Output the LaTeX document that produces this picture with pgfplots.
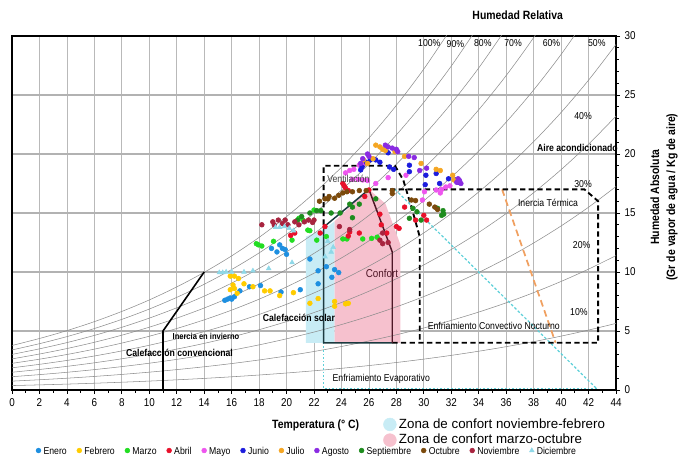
\documentclass[border=0pt]{standalone}
\usepackage{fontspec}
\setmainfont{Liberation Sans}
\newfontfamily\nar[FakeStretch=0.87]{Liberation Sans}
\usepackage{pgfplots}
\pgfplotsset{compat=1.18}
\definecolor{cEne}{HTML}{1E8FE0}
\definecolor{cFeb}{HTML}{FFCC00}
\definecolor{cMar}{HTML}{22DD22}
\definecolor{cAbr}{HTML}{E8102A}
\definecolor{cMay}{HTML}{EE55EE}
\definecolor{cJun}{HTML}{1C1CDD}
\definecolor{cJul}{HTML}{F5A623}
\definecolor{cAgo}{HTML}{8A2BE2}
\definecolor{cSep}{HTML}{1E8C1E}
\definecolor{cOct}{HTML}{7B4A0C}
\definecolor{cNov}{HTML}{A8243F}
\definecolor{cDic}{HTML}{8FD8E8}
\definecolor{zblue}{HTML}{C8ECF5}
\definecolor{zpink}{HTML}{F6C1CE}
\definecolor{dslate}{HTML}{1C3A40}
\definecolor{dmaroon}{HTML}{4E1626}
\definecolor{corange}{HTML}{F0A060}
\definecolor{ccyan}{HTML}{5CCFD8}
\definecolor{rhgray}{HTML}{8C8C8C}
\tikzset{
  lab/.style={font=\nar\fontsize{7.5}{9}\selectfont, inner sep=0pt},
  blab/.style={font=\nar\bfseries\fontsize{7.5}{9}\selectfont, inner sep=0pt},
}
\begin{document}
\begin{tikzpicture}
\begin{axis}[
  name=main, at={(0,0)}, anchor=south west,
  scale only axis, width=453pt, height=265.5pt,
  xmin=0, xmax=44, ymin=0, ymax=30,
  xtick={0,2,...,44}, ytick={0,5,...,30},
  minor x tick num=1, minor y tick num=4,
  xtick pos=bottom, ytick pos=right, yticklabel pos=right,
  tick align=outside,
  major tick length=3pt, minor tick length=2pt,
  tick style={black, line width=0.5pt},
  axis line style={black, line width=1pt},
  xmajorgrids, ymajorgrids,
  x grid style={gray!55, line width=0.5pt},
  y grid style={gray!60, line width=1pt},
  ticklabel style={font=\nar\fontsize{8.5}{10}\selectfont},
  /pgf/number format/assume math mode=true,
  clip mode=individual,
  legend columns=12,
  legend style={at={(0.489,-0.171)}, anchor=center, draw=none, fill=none,
    font=\nar\fontsize{7.5}{9}\selectfont,
    nodes={text height=1.55ex, text depth=0.3ex},
    /tikz/every even column/.append style={column sep=5.6pt}},
  legend image code/.code={\draw[#1] plot coordinates {(0.05cm,0cm)};},
]
% comfort zones
\addplot[forget plot, fill=zblue, draw=none] coordinates {(21.4,4)(21.4,13.0)(22.7,13.6)(23.5,14.3)(23.5,4)};
\addplot[forget plot, fill=zpink, draw=none] coordinates {(23.5,4)(23.5,14.3)(26,17)(27.2,15.8)(28.3,12.3)(28.3,4)};
% relative humidity curves
\addplot[forget plot, rhgray, line width=0.4pt, smooth] coordinates {(0,3.773)(2,4.364)(4,5.031)(6,5.793)(8,6.657)(10,7.631)(12,8.734)(14,9.973)(16,11.364)(18,12.934)(20,14.698)(22,16.672)(24,18.880)(26,21.353)(28,24.117)(30,27.205)(32,30.654)};
\addplot[forget plot, rhgray, line width=0.4pt, smooth] coordinates {(0,3.395)(2,3.925)(4,4.524)(6,5.209)(8,5.985)(10,6.859)(12,7.849)(14,8.961)(16,10.209)(18,11.616)(20,13.197)(22,14.965)(24,16.941)(26,19.152)(28,21.621)(30,24.378)(32,27.453)(34,30.874)};
\addplot[forget plot, rhgray, line width=0.4pt, smooth] coordinates {(0,3.015)(2,3.487)(4,4.018)(6,4.626)(8,5.314)(10,6.090)(12,6.967)(14,7.953)(16,9.058)(18,10.304)(20,11.703)(22,13.267)(24,15.013)(26,16.966)(28,19.145)(30,21.575)(32,24.284)(34,27.293)(36,30.644)};
\addplot[forget plot, rhgray, line width=0.4pt, smooth] coordinates {(0,2.636)(2,3.049)(4,3.513)(6,4.044)(8,4.645)(10,5.322)(12,6.088)(14,6.948)(16,7.912)(18,8.998)(20,10.216)(22,11.577)(24,13.097)(26,14.794)(28,16.688)(30,18.797)(32,21.145)(34,23.751)(36,26.649)(38,29.867)(40,33.435)};
\addplot[forget plot, rhgray, line width=0.4pt, smooth] coordinates {(0,2.258)(2,2.611)(4,3.009)(6,3.463)(8,3.977)(10,4.556)(12,5.211)(14,5.946)(16,6.769)(18,7.696)(20,8.736)(22,9.897)(24,11.192)(26,12.639)(28,14.249)(30,16.042)(32,18.037)(34,20.247)(36,22.703)(38,25.426)(40,28.440)(42,31.776)};
\addplot[forget plot, rhgray, line width=0.4pt, smooth] coordinates {(0,1.881)(2,2.175)(4,2.505)(6,2.883)(8,3.311)(10,3.792)(12,4.336)(14,4.947)(16,5.631)(18,6.400)(20,7.263)(22,8.226)(24,9.299)(26,10.496)(28,11.829)(30,13.311)(32,14.958)(34,16.782)(36,18.805)(38,21.045)(40,23.521)(42,26.257)(44,29.284)};
\addplot[forget plot, rhgray, line width=0.4pt, smooth] coordinates {(0,1.504)(2,1.739)(4,2.003)(6,2.304)(8,2.646)(10,3.030)(12,3.464)(14,3.951)(16,4.496)(18,5.110)(20,5.797)(22,6.563)(24,7.417)(26,8.369)(28,9.427)(30,10.604)(32,11.909)(34,13.354)(36,14.954)(38,16.722)(40,18.675)(42,20.829)(44,23.210)};
\addplot[forget plot, rhgray, line width=0.4pt, smooth] coordinates {(0,1.127)(2,1.303)(4,1.501)(6,1.727)(8,1.982)(10,2.270)(12,2.595)(14,2.959)(16,3.366)(18,3.824)(20,4.338)(22,4.910)(24,5.546)(26,6.256)(28,7.044)(30,7.919)(32,8.889)(34,9.962)(36,11.148)(38,12.458)(40,13.903)(42,15.492)(44,17.246)};
\addplot[forget plot, rhgray, line width=0.4pt, smooth] coordinates {(0,0.751)(2,0.868)(4,0.999)(6,1.150)(8,1.320)(10,1.511)(12,1.727)(14,1.969)(16,2.240)(18,2.545)(20,2.885)(22,3.264)(24,3.686)(26,4.157)(28,4.678)(30,5.257)(32,5.898)(34,6.606)(36,7.388)(38,8.250)(40,9.200)(42,10.243)(44,11.392)};
\addplot[forget plot, rhgray, line width=0.4pt, smooth] coordinates {(0,0.375)(2,0.434)(4,0.499)(6,0.574)(8,0.659)(10,0.755)(12,0.862)(14,0.983)(16,1.118)(18,1.270)(20,1.439)(22,1.628)(24,1.838)(26,2.071)(28,2.330)(30,2.617)(32,2.935)(34,3.286)(36,3.672)(38,4.098)(40,4.566)(42,5.079)(44,5.645)};
% strategy lines
\addplot[forget plot, black, line width=1.2pt] coordinates {(11,0)(11,5)(14,10)};
\addplot[forget plot, ccyan, line width=0.9pt, dash pattern=on 1.2pt off 1.5pt] coordinates {(22.7,4)(22.7,0.15)(42.6,0.15)};
\addplot[forget plot, ccyan, line width=0.9pt, dash pattern=on 2pt off 1.5pt] coordinates {(27.9,17)(42.6,0.1)};
\addplot[forget plot, corange, line width=1.3pt, dash pattern=on 5pt off 3pt] coordinates {(35.7,17)(39.6,4)};
\addplot[forget plot, black, line width=1.4pt, dash pattern=on 4pt off 2.5pt] coordinates {(22.7,14)(22.7,19)(27.9,19)(28.5,17.8)(29.1,15.5)(29.7,13)(29.7,4)};
\addplot[forget plot, black, line width=1.4pt, dash pattern=on 4pt off 2.5pt] coordinates {(27.7,4)(42.7,4)(42.7,16)(41.7,17)(26,17)};
\addplot[forget plot, dslate, line width=1.1pt] coordinates {(27.7,4)(22.7,4)(22.7,13.8)(26,17)};
\addplot[forget plot, dmaroon, line width=1.1pt] coordinates {(26,17)(27.7,11.7)(27.7,4)};
% monthly data
\addplot[only marks, mark=*, mark size=1.8pt, color=cEne] coordinates {(15.5,7.6)(15.7,7.7)(15.9,7.8)(16.2,7.9)(16.0,7.7)(16.6,8.4)(17.3,8.75)(18.1,8.85)(19.6,8.3)(21.0,8.5)(19.5,12.3)(19.7,12.0)(19.3,11.7)(19.9,11.9)(20.0,11.5)(18.9,12.0)(21.7,11.1)(22.9,10.45)(23.5,10.2)(23.8,9.95)(23.3,9.55)(22.3,9.0)(22.3,10.1)};
\addlegendentry{Enero}
\addplot[only marks, mark=*, mark size=1.8pt, color=cFeb] coordinates {(15.9,9.65)(16.2,9.65)(16.5,9.45)(16.9,9.0)(15.9,8.5)(16.2,8.6)(16.4,8.2)(17.55,8.75)(18.4,8.4)(18.8,8.4)(19.5,8.0)(20.5,8.25)(21.7,7.35)(22.3,7.75)(23.5,7.5)(23.5,7.1)(24.3,7.3)(24.5,7.35)(16.1,8.9)};
\addlegendentry{Febrero}
\addplot[only marks, mark=*, mark size=1.8pt, color=cMar] coordinates {(17.8,12.4)(17.95,12.3)(18.2,12.2)(19.05,12.6)(20.4,12.7)(21.7,13.5)(22.2,12.7)(20.9,14.55)(21.2,14.4)(21.55,13.55)(22.0,15.25)(24.1,12.8)(24.4,12.8)(25.55,12.8)(26.2,12.85)(26.6,12.95)(22.9,13.0)};
\addlegendentry{Marzo}
\addplot[only marks, mark=*, mark size=1.8pt, color=cAbr] coordinates {(24.1,17.5)(24.2,17.3)(24.3,17.1)(24.5,16.9)(26.0,16.95)(25.7,16.4)(26.9,14.0)(28.0,13.85)(28.6,15.5)(29.4,14.4)(30.0,14.8)(30.2,14.4)(24.6,13.4)(24.5,13.05)(25.3,13.3)(22.8,13.85)(20.3,13.1)(20.6,13.3)(22.45,13.3)(28.2,13.7)(27.3,13.3)(26.8,14.9)};
\addlegendentry{Abril}
\addplot[only marks, mark=*, mark size=1.8pt, color=cMay] coordinates {(24.3,18.4)(24.6,18.6)(24.9,18.7)(25.3,19.05)(25.6,19.2)(24.8,17.85)(25.2,17.85)(25.55,17.8)(25.9,17.75)(26.5,17.5)(29.9,16.1)(30.05,16.8)(30.9,16.95)(31.3,17.0)(31.6,17.2)(31.9,17.3)(31.2,16.7)(27.4,18.0)(28.7,18.2)};
\addlegendentry{Mayo}
\addplot[only marks, mark=*, mark size=1.8pt, color=cJun] coordinates {(25.4,18.65)(25.5,18.9)(25.8,19.3)(26.1,19.5)(26.5,19.5)(27.4,20.1)(27.5,18.9)(27.8,18.7)(28.95,19.05)(28.95,18.5)(30.15,18.2)(30.1,17.4)(30.9,18.35)(31.15,17.5)(31.8,17.9)(32.3,17.8)(32.5,17.6)(26.8,19.3)};
\addlegendentry{Junio}
\addplot[only marks, mark=*, mark size=1.8pt, color=cJul] coordinates {(26.5,20.75)(26.8,20.6)(27.0,20.4)(26.3,19.6)(25.9,19.2)(28.6,19.8)(27.2,20.3)(30.9,18.7)(31.2,18.6)(32.1,18.2)(32.2,17.8)(29.8,19.2)(25.6,19.5)(27.9,20.2)};
\addlegendentry{Julio}
\addplot[only marks, mark=*, mark size=1.8pt, color=cAgo] coordinates {(27.2,20.75)(27.4,20.6)(27.7,20.5)(28.0,20.4)(28.1,20.2)(25.9,20.0)(26.0,19.8)(25.55,19.6)(25.4,19.2)(28.9,19.8)(29.7,18.6)(30.2,18.8)(32.5,17.9)(32.6,17.75)(32.7,17.5)(32.4,17.6)(29.3,19.7)};
\addlegendentry{Agosto}
\addplot[only marks, mark=*, mark size=1.8pt, color=cSep] coordinates {(21.7,15.0)(22.2,15.2)(22.5,15.2)(23.25,15.0)(21.1,14.7)(20.8,14.4)(24.6,15.75)(24.8,15.5)(25.3,15.75)(26.5,16.2)(24.8,14.6)(29.2,15.4)(29.5,15.1)(28.95,14.55)(29.8,14.4)(31.0,15.4)(31.4,15.2)(31.45,14.9)(31.3,14.8)(23.9,15.0)};
\addlegendentry{Septiembre}
\addplot[only marks, mark=*, mark size=1.8pt, color=cOct] coordinates {(22.4,16.0)(22.8,16.2)(23.1,16.4)(23.5,16.25)(23.8,16.5)(24.1,16.7)(24.4,16.8)(24.8,16.8)(25.3,16.9)(25.8,16.9)(27.7,16.65)(27.7,16.9)(29.1,16.1)(29.4,16.05)(30.4,15.75)(30.8,15.5)(31.0,15.3)(23.0,16.2)};
\addlegendentry{Octubre}
\addplot[only marks, mark=*, mark size=1.8pt, color=cNov] coordinates {(19.0,14.25)(19.1,14.0)(19.4,14.4)(19.7,14.1)(19.9,14.4)(20.1,14.0)(20.6,14.25)(20.9,14.0)(21.3,14.25)(21.6,14.4)(21.9,14.2)(22.0,14.4)(23.85,13.85)(24.6,13.6)(26.8,12.7)(27.0,12.4)(27.4,12.5)(27.0,13.3)(18.2,14.0)};
\addlegendentry{Noviembre}
\addplot[only marks, mark=triangle*, mark size=2pt, color=cDic] coordinates {(15.1,9.95)(15.35,9.95)(15.6,10.0)(16.0,10.0)(16.9,10.0)(17.55,10.1)(18.7,10.3)(20.4,10.8)(19.5,13.8)(19.85,13.85)(20.2,13.7)(20.5,13.5)(19.2,13.8)(23.0,12.6)(23.25,11.7)(22.8,11.3)(23.4,12.1)};
\addlegendentry{Diciembre}
% labels
\node[lab] at (axis cs:30.4,29.4) {100\%};
\node[lab] at (axis cs:32.3,29.3) {90\%};
\node[lab] at (axis cs:34.3,29.4) {80\%};
\node[lab] at (axis cs:36.5,29.4) {70\%};
\node[lab] at (axis cs:39.3,29.4) {60\%};
\node[lab] at (axis cs:42.6,29.4) {50\%};
\node[lab] at (axis cs:41.6,23.2) {40\%};
\node[lab] at (axis cs:41.6,17.45) {30\%};
\node[lab] at (axis cs:41.5,12.3) {20\%};
\node[lab] at (axis cs:41.3,6.6) {10\%};
\node[blab, anchor=east] at (axis cs:44.15,20.55) {Aire acondicionado};
\node[lab] at (axis cs:39.05,15.9) {Inercia Térmica};
\node[lab] at (axis cs:35.1,5.4) {Enfriamiento Convectivo Nocturno};
\node[lab] at (axis cs:26.9,0.9) {Enfriamiento Evaporativo};
\node[lab, text=dmaroon, font=\nar\fontsize{8.5}{10}\selectfont] at (axis cs:26.95,9.9) {Confort};
\node[lab, text=black!75] at (axis cs:24.5,17.9) {Ventilación};
\node[blab] at (axis cs:20.9,6.15) {Calefacción solar};
\node[blab, font=\nar\bfseries\fontsize{6.5}{8}\selectfont] at (axis cs:14.13,4.52) {Inercia en invierno};
\node[blab] at (axis cs:12.2,3.11) {Calefacción convencional};
\node[font=\nar\bfseries\fontsize{9}{10}\selectfont] at (axis cs:36.84,31.78) {Humedad Relativa};
\node[font=\nar\bfseries\fontsize{9}{10}\selectfont] at (axis cs:22.12,-2.97) {Temperatura (° C)};
\node[rotate=90, align=center, font=\nar\bfseries\fontsize{9}{12}\selectfont] at (axis cs:47.5,16.35) {Humedad Absoluta\\(Gr de vapor de agua / Kg de aire)};
\end{axis}
\begin{axis}[
  at={(0,0)}, anchor=south west,
  scale only axis, width=453pt, height=265.5pt,
  hide axis, xmin=0, xmax=1, ymin=0, ymax=1,
  legend style={at={(0.608,-0.065)}, anchor=north west, draw=none, fill=none,
    font=\fontsize{10}{10}\selectfont, row sep=-1pt},
  legend cell align=left,
  legend image code/.code={\draw[#1] plot coordinates {(0.1cm,0cm)};},
]
\addlegendimage{only marks, mark=*, mark size=4.8pt, color=zblue}
\addlegendentry{Zona de confort noviembre-febrero}
\addlegendimage{only marks, mark=*, mark size=4.8pt, color=zpink}
\addlegendentry{Zona de confort marzo-octubre}
\end{axis}
\pgfresetboundingbox
\path[use as bounding box] (-9pt,-49.5pt) rectangle (499.5pt,292.5pt);
\end{tikzpicture}
\end{document}
